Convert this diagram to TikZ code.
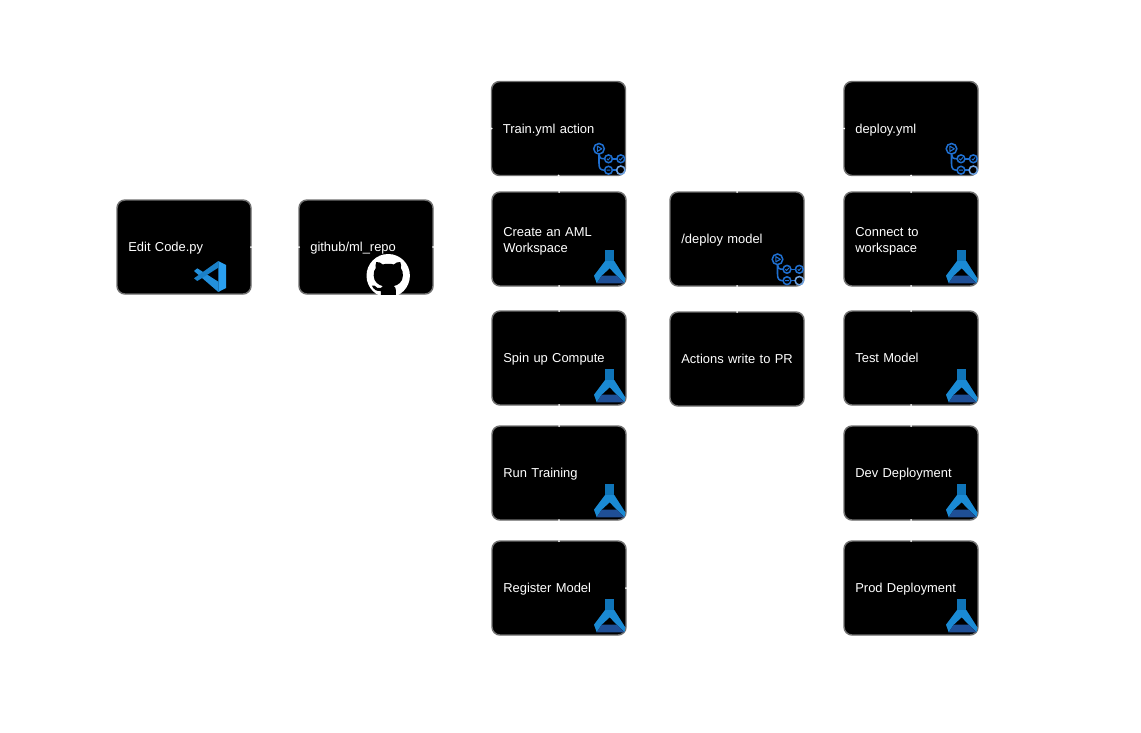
\documentclass[tikz,border=0pt]{standalone}
\usepackage{fontspec}
\setmainfont{Liberation Sans}
\definecolor{boxline}{HTML}{707070}
\definecolor{aml}{HTML}{1A8AD4}
\definecolor{amlneck}{HTML}{0F74B8}
\definecolor{amldark}{HTML}{1F4F96}
\definecolor{act}{HTML}{1F6FD0}
\definecolor{vsa}{HTML}{1A80C8}
\definecolor{vsb}{HTML}{2390DC}
\definecolor{vsc}{HTML}{2A9FF0}
\tikzset{
  x=0.75pt,y=-0.75pt,
  card/.style={draw=boxline,fill=black,line width=1.1pt,rounded corners=6pt,outer sep=0pt,
    minimum width=100.5pt,minimum height=70.5pt,inner sep=0pt,anchor=north west,
    text=white,align=left,text width=83.5pt,font=\fontsize{9.7pt}{12pt}\selectfont,
    execute at end node={\vspace{-3pt}}},
  notch/.style={fill=white},
}
% icon macros take the name of the card; origin = its south east corner
\newcommand{\amlicon}[1]{\begin{scope}[shift={(#1.south east)}]
  \fill[aml] (-21,-25) -- (-11.7,-25) -- (-0.7,-7.7) -- (-1.5,-3) -- (-9.3,-10.3) -- (-16.3,-17.7) -- (-24.3,-10.3) -- (-29.3,-2.7) -- (-32,-10.3) -- cycle;
  \fill[amlneck] (-21,-36) -- (-11.7,-36) -- (-11.7,-25) -- (-21,-25) -- cycle;
  \fill[amldark] (-24.3,-10.3) -- (-9.3,-10.3) -- (-1.5,-2.7) -- (-29.3,-2.7) -- cycle;
  \end{scope}}
\newcommand{\acticon}[1]{\begin{scope}[shift={(#1.south east)},act,line width=1.15pt]
  \draw (-26.5,-21) -- (-26.5,-12) .. controls (-26.5,-7) and (-25,-5.3) .. (-21,-5.3);
  \draw (-26.5,-21) .. controls (-26.5,-18) and (-25,-16.7) .. (-21,-16.7);
  \draw (-13,-16.7) -- (-9,-16.7) (-13,-5.3) -- (-9,-5.3);
  \draw (-26.5,-26.7) circle (5.3);
  \draw[line width=0.8pt,line join=round] (-28.1,-29.3) -- (-23.7,-26.7) -- (-28.1,-24.1) -- cycle;
  \draw (-17,-16.7) circle (3.9) (-4.7,-16.7) circle (3.9) (-17,-5.3) circle (3.9);
  \draw[line width=0.7pt] (-18.6,-16.7) -- (-17.4,-15.5) -- (-15.2,-18) (-6.3,-16.7) -- (-5.1,-15.5) -- (-2.9,-18) (-18.8,-5.3) -- (-15.2,-5.3);
  \draw[act!65!white] (-4.7,-5.3) circle (4.2);
  \end{scope}}
\newcommand{\sidemarks}[2]{\foreach \a in {#2} {\fill[notch] (#1.\a) circle (1.0);}}
\begin{document}
\begin{tikzpicture}
\useasboundingbox (0,0) rectangle (1141,732);
% cards
\node[card] (edit) at (117,200) {Edit Code.py};
\node[card] (repo) at (299,200) {github/ml\_repo};
\node[card] (train) at (491.5,81.5) {Train.yml action};
\node[card] (aml) at (492,192) {Create an AML\\Workspace};
\node[card] (spin) at (492,311) {Spin up Compute};
\node[card] (run) at (492,426) {Run Training};
\node[card] (reg) at (492,541) {Register Model};
\node[card] (dep) at (670,192) {/deploy model};
\node[card] (pr) at (670,312) {\mbox{Actions write to PR}};
\node[card] (yml) at (844,81.5) {deploy.yml};
\node[card] (conn) at (844,192) {Connect to\\workspace};
\node[card] (test) at (844,311) {Test Model};
\node[card] (dev) at (844,426) {Dev Deployment};
\node[card] (prod) at (844,541) {Prod Deployment};
% icons
\foreach \n in {aml,spin,run,reg,conn,test,dev,prod} {\amlicon{\n}}
\foreach \n in {train,dep,yml} {\acticon{\n}}
% VS Code
\begin{scope}[shift={(edit.south east)}]
  \fill[vsb] (-57,-23) -- (-53.7,-25.7) -- (-32.7,-12.3) -- (-32.7,-2) -- cycle;
  \fill[vsa] (-57,-15.7) -- (-53.7,-13) -- (-32.7,-26.3) -- (-32.7,-33) -- cycle;
  \fill[vsc] (-32.7,-33) -- (-25,-29) -- (-25,-6) -- (-32.7,-2) -- cycle;
\end{scope}
% GitHub
\begin{scope}
  \clip (repo.south west) rectangle (repo.north east);
  \fill[white] (388.2,275.7) circle (21.7);
  \begin{scope}[shift={(0.8,0)}]
  \fill[black] (375.5,262) .. controls (378,261.5) and (380,263) .. (382,264.5)
    .. controls (385,263.5) and (390,263.5) .. (393,264.5)
    .. controls (395,263) and (397,261.5) .. (399.5,262)
    .. controls (400.5,264.5) and (400.5,266.5) .. (400,268)
    .. controls (403,271) and (403,280) .. (399,283)
    .. controls (397,285) and (395,285.5) .. (393,286)
    .. controls (394.5,287) and (395,288.5) .. (395,290) -- (395,297) -- (380,297) -- (380,291)
    .. controls (376,291.5) and (373,290) .. (371,285.5)
    -- (373.5,285.5) .. controls (375,288) and (378,288.5) .. (380,288)
    .. controls (380.5,287) and (381,286.5) .. (382,286)
    .. controls (380,285.5) and (378,285) .. (376,283)
    .. controls (372,280) and (372,271) .. (375,268)
    .. controls (374.5,266.5) and (374.5,264.5) .. (375.5,262) -- cycle;
  \end{scope}
\end{scope}
% side marks
\sidemarks{edit}{east}
\sidemarks{repo}{west,east}
\sidemarks{train}{west,south}
\sidemarks{aml}{north,south}
\sidemarks{spin}{north,south}
\sidemarks{run}{north,south}
\sidemarks{reg}{north,east}
\sidemarks{dep}{north,south}
\sidemarks{pr}{north}
\sidemarks{yml}{west,south}
\sidemarks{conn}{north,south}
\sidemarks{test}{north,south}
\sidemarks{dev}{north,south}
\sidemarks{prod}{north}
\end{tikzpicture}
\end{document}
